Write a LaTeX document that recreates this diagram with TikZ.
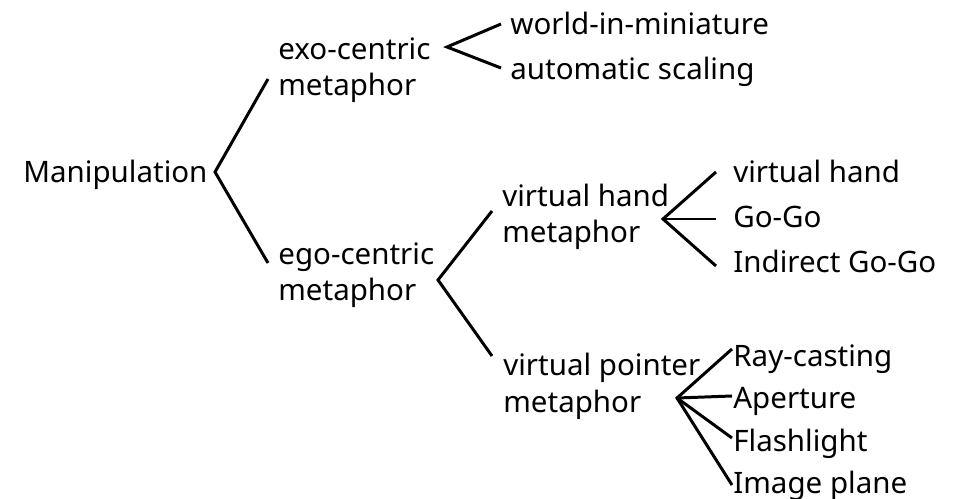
\documentclass[tikz,border=0pt]{standalone}
\usepackage{fontspec}
\setmainfont{Noto Sans}
\tikzset{%
	term/.style={
		anchor=base west,
		inner sep=0pt,
		align=left,
		font=\fontsize{16.8}{20.5}\selectfont
	},
	branch/.style={
		line width=1.7pt,
		line join=miter
	},
}

\begin{document}
\begin{tikzpicture}[x=0.02cm, y=-0.02cm]
	\useasboundingbox (0,0) rectangle (962,499);
	% categories (base = last line)
	\node[term] (manip) at (23,183) {Manipulation};
	\node[term] (exo) at (278,96) {exo-centric\\metaphor};
	\node[term] (ego) at (278,301) {ego-centric\\metaphor};
	\node[term] (vhm) at (502,243) {virtual hand\\metaphor};
	\node[term] (vpm) at (503,412) {virtual pointer\\metaphor};
	% techniques
	\node[term] (wim) at (510,35) {world-in-miniature};
	\node[term] (autoscale) at (510,80) {automatic scaling};
	\node[term] (vhand) at (733,183) {virtual hand};
	\node[term] (gogo) at (733,228) {Go-Go};
	\node[term] (igogo) at (733,273) {Indirect Go-Go};
	\node[term] (ray) at (733,366) {Ray-casting};
	\node[term] (aperture) at (733,408) {Aperture};
	\node[term] (flash) at (733,451) {Flashlight};
	\node[term] (imgplane) at (733,493) {Image plane};
	
	% fork points and branch ends
	\coordinate (manip-fork) at (215,172);
	\coordinate (exo-in) at (268,79);
	\coordinate (ego-in) at (268,263);
	\coordinate (exo-fork) at (447,47);
	\coordinate (wim-in) at (501,24);
	\coordinate (autoscale-in) at (501,68);
	\coordinate (ego-fork) at (438,280);
	\coordinate (vhm-in) at (492,211);
	\coordinate (vpm-in) at (492,356);
	\coordinate (vhm-fork) at (663,219);
	\coordinate (vhand-in) at (716,172);
	\coordinate (gogo-in) at (716,219);
	\coordinate (igogo-in) at (716,266);
	\coordinate (vpm-fork) at (677,398);
	\coordinate (ray-in) at (732,349);
	\coordinate (aperture-in) at (732,396);
	\coordinate (flash-in) at (732,438);
	\coordinate (imgplane-in) at (732,485);
	
	\draw[branch] (exo-in) -- (manip-fork) -- (ego-in);
	\draw[branch] (wim-in) -- (exo-fork) -- (autoscale-in);
	\draw[branch] (vhm-in) -- (ego-fork) -- (vpm-in);
	\draw[branch] (vhand-in) -- (vhm-fork) -- (igogo-in);
	\draw[branch] (vhm-fork) -- (gogo-in);
	\draw[branch] (ray-in) -- (vpm-fork) -- (imgplane-in);
	\draw[branch] (vpm-fork) -- (aperture-in);
	\draw[branch] (vpm-fork) -- (flash-in);
\end{tikzpicture}
\end{document}
